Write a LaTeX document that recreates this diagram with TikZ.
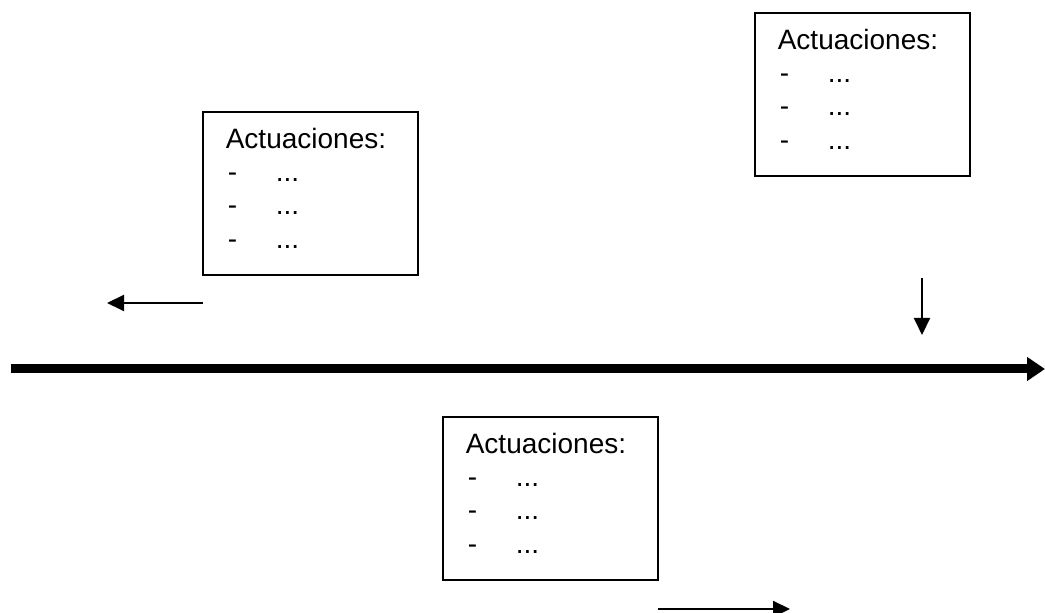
\documentclass[tikz,border=0pt]{standalone}
\usepackage{fontspec}
\setmainfont{Liberation Sans}
\usetikzlibrary{arrows.meta}

\newcommand{\actlist}{Actuaciones:\\
  \makebox[25pt][l]{\hspace{1pt}-}...\\
  \makebox[25pt][l]{\hspace{1pt}-}...\\
  \makebox[25pt][l]{\hspace{1pt}-}...\rule[-5.5pt]{0pt}{5.5pt}}

\tikzset{
  actbox/.style={draw, line width=0.8pt, anchor=north west, align=left,
    font=\fontsize{14}{16.7}\selectfont, inner xsep=11.5pt, inner ysep=8pt,
    text width=84.5pt},
  thinarrow/.style={line width=1pt, -{Triangle[length=8.5pt,width=8pt]}},
  timeline/.style={line width=4.5pt, -{Triangle[length=9pt,width=11.5pt]}}
}

\begin{document}
\begin{tikzpicture}[x=0.5pt, y=-0.5pt]

        \useasboundingbox (0, 0) rectangle (1045, 613);

        \node[actbox] (izq) at (202, 111) {\actlist};
        \node[actbox] (der) at (754, 12) {\actlist};
        \node[actbox] (abajo) at (442, 416) {\actlist};

        \coordinate (ejeini) at (11, 369);
        \coordinate (ejefin) at (1045, 369);
        \coordinate (izqini) at (203, 303);
        \coordinate (izqfin) at (107, 303);
        \coordinate (bajaini) at (922, 278);
        \coordinate (bajafin) at (922, 335);
        \coordinate (derini) at (658, 609);
        \coordinate (derfin) at (790, 609);

        \draw[timeline] (ejeini) -- (ejefin);
        \draw[thinarrow] (izqini) -- (izqfin);
        \draw[thinarrow] (bajaini) -- (bajafin);
        \draw[thinarrow] (derini) -- (derfin);

      \end{tikzpicture}
\end{document}
